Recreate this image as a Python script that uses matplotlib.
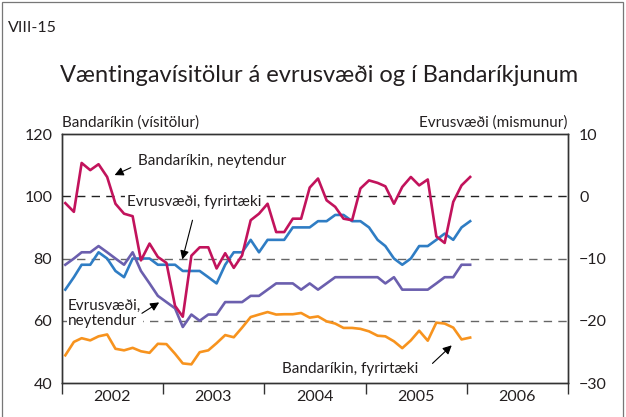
import matplotlib
matplotlib.use("Agg")
import matplotlib.pyplot as plt
import matplotlib.dates as mdates
from matplotlib.patches import Rectangle
import numpy as np
import pandas as pd

plt.rcParams['font.family'] = ['Lato', 'DejaVu Sans']

# monthly, Jan 2002 - Jan 2006
start = "2002-01-01"
n_months = 49

# Bandaríkin, neytendur (vísitala)
us_consumer = [97.8, 95.0, 110.7, 108.4, 110.3, 106.2, 97.6, 94.4, 93.6, 79.4, 84.8, 80.5,
               78.6, 64.8, 61.3, 80.9, 83.6, 83.6, 76.8, 81.7, 77.0, 81.0, 92.3, 94.4,
               97.6, 88.5, 88.5, 92.8, 92.8, 102.8, 105.7, 98.7, 96.6, 92.8, 92.3, 102.5,
               105.1, 104.3, 103.2, 97.6, 103.0, 106.2, 103.5, 105.4, 87.1, 85.0, 98.2, 103.5,
               106.2]
# Bandaríkin, fyrirtæki (vísitala)
us_business = [48.9, 53.2, 54.4, 53.7, 55.0, 55.6, 51.0, 50.5, 51.3, 50.2, 49.7, 52.6,
               52.5, 49.4, 46.3, 46.0, 49.9, 50.5, 52.8, 55.4, 54.7, 57.8, 61.2, 62.0,
               62.8, 62.0, 62.1, 62.1, 62.5, 61.0, 61.4, 59.8, 59.1, 57.7, 57.7, 57.4,
               56.6, 55.2, 55.0, 53.4, 51.2, 53.7, 56.8, 53.6, 59.4, 59.1, 57.8, 54.0,
               54.6]
# Evrusvæði, fyrirtæki (mismunur)
ez_business = [-15, -13, -11, -11, -9, -10, -12, -13, -10, -10, -10, -11,
               -11, -11, -12, -12, -12, -13, -14, -11, -9, -9, -7, -9,
               -7, -7, -7, -5, -5, -5, -4, -4, -3, -3, -4, -4,
               -5, -7, -8, -10, -11, -10, -8, -8, -7, -6, -7, -5,
               -4]
# Evrusvæði, neytendur (mismunur)
ez_consumer = [-11, -10, -9, -9, -8, -9, -10, -11, -9, -12, -14, -16,
               -17, -18, -21, -19, -20, -19, -19, -17, -17, -17, -16, -16,
               -15, -14, -14, -14, -15, -14, -15, -14, -13, -13, -13, -13,
               -13, -13, -14, -13, -15, -15, -15, -15, -14, -13, -13, -11,
               -11]

years = [2002, 2003, 2004, 2005, 2006]

months = pd.date_range(start, periods=n_months, freq="MS") + pd.Timedelta(days=12)

c_mag = "#c2135c"
c_blue = "#2f7dc4"
c_purple = "#6b5fae"
c_orange = "#f7931e"
txt = "#231f20"

fig = plt.figure(figsize=(6.26, 4.17), dpi=100)
fig.patches.append(Rectangle((0.003, -0.01), 0.993, 1.005, transform=fig.transFigure,
                             fill=False, edgecolor="#777777", lw=0.9))

ax = fig.add_axes([0.099, 0.0815, 0.8083, 0.5971])
ax2 = ax.twinx()
ax.set_zorder(ax2.get_zorder() + 1)
ax.patch.set_visible(False)

# dashed reference lines
for v, col in [(0, "#222222"), (-10, "#666666"), (-20, "#666666")]:
    ax2.axhline(v, color=col, lw=1.0, dashes=(6, 4.5), zorder=1)

ax2.plot(months, ez_business, color=c_blue, lw=1.9, zorder=3)
ax2.plot(months, ez_consumer, color=c_purple, lw=1.9, zorder=3)
ax.plot(months, us_business, color=c_orange, lw=1.9, zorder=3)
ax.plot(months, us_consumer, color=c_mag, lw=1.9, zorder=4)

ax.set_ylim(40, 120)
ax2.set_ylim(-30, 10)
ax.set_yticks(np.arange(40, 121, 20))
ax2.set_yticks(np.arange(-30, 11, 10))
ax.set_xlim(pd.Timestamp("2002-01-01"), pd.Timestamp("2007-01-01"))

ax.xaxis.set_major_locator(mdates.YearLocator())
ax.xaxis.set_major_formatter(plt.NullFormatter())
ax.xaxis.set_minor_locator(mdates.MonthLocator(bymonth=7))
ax.xaxis.set_minor_formatter(mdates.DateFormatter("%Y"))
ax.tick_params(axis="x", which="major", length=8, width=1, direction="out", color="#333333")
ax.tick_params(axis="x", which="minor", length=0, pad=5, labelsize=11.5, labelcolor=txt)
ax.tick_params(axis="y", length=0, pad=7, labelsize=11.5, labelcolor=txt)
ax2.tick_params(axis="y", length=0, pad=8, labelsize=11.5, labelcolor=txt)
for a in (ax, ax2):
    for s in a.spines.values():
        s.set_color("#333333")
        s.set_linewidth(1.0)

fig.text(0.013, 0.933, "VIII-15", fontsize=11.5, color=txt, va="center")
fig.text(0.096, 0.82, "Væntingavísitölur á evrusvæði og í Bandaríkjunum",
         fontsize=17, color=txt, va="center")
fig.text(0.099, 0.707, "Bandaríkin (vísitölur)", fontsize=11, color=txt, va="center")
fig.text(0.9073, 0.707, "Evrusvæði (mismunur)", fontsize=11, color=txt, va="center", ha="right")

arrow = dict(arrowstyle="-|>", color="black", lw=0.8, mutation_scale=13, shrinkA=0, shrinkB=0)


def yr(y, m=0.0):
    return mdates.date2num(pd.Timestamp(f"{y}-01-01")) + m * 365.25


ax.text(yr(2002, 0.75), 111.3, "Bandaríkin, neytendur", fontsize=11, color=txt, va="center")
ax.annotate("", xy=(yr(2002, 0.52), 106.8), xytext=(yr(2002, 0.68), 109.2), arrowprops=arrow)

ax.text(yr(2002, 0.64), 98.1, "Evrusvæði, fyrirtæki", fontsize=11, color=txt, va="center",
        bbox=dict(facecolor="white", edgecolor="none", pad=1))
ax.annotate("", xy=(yr(2003, 0.19), 79.7), xytext=(yr(2003, 0.29), 92.3), arrowprops=arrow)

ax.text(yr(2002, 0.06), 62.4, "Evrusvæði,\nneytendur", fontsize=11, color=txt, va="center",
        linespacing=1.15, bbox=dict(facecolor="white", edgecolor="none", pad=1))
ax.annotate("", xy=(yr(2002, 0.96), 65.9), xytext=(yr(2002, 0.79), 62.4), arrowprops=arrow)

ax.text(yr(2004, 0.18), 44.4, "Bandaríkin, fyrirtæki", fontsize=11, color=txt, va="center")
ax.annotate("", xy=(yr(2005, 0.85), 52.1), xytext=(yr(2005, 0.66), 46.3), arrowprops=arrow)

fig.savefig("out.png", dpi=100)
